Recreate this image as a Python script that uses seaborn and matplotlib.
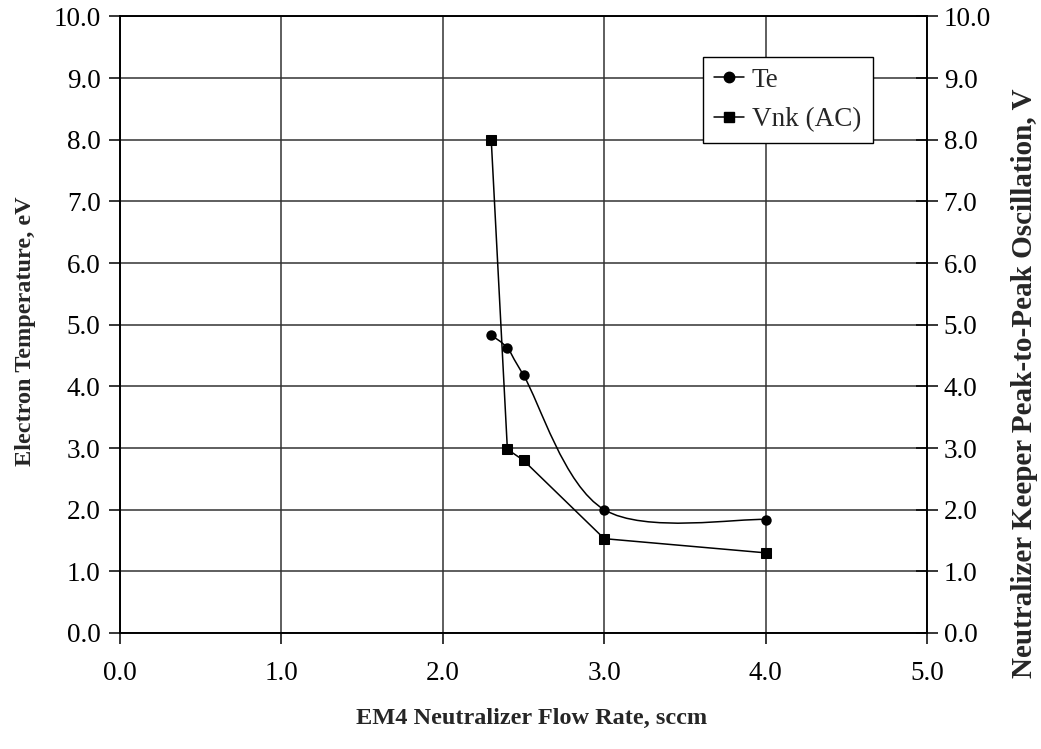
import matplotlib
matplotlib.use("Agg")
import matplotlib.pyplot as plt
from matplotlib.path import Path
from matplotlib.patches import PathPatch
from matplotlib.lines import Line2D
import numpy as np
import pandas as pd
import seaborn as sns

# Neutralizer flow rate (sccm)
flow = [2.3, 2.4, 2.5, 3.0, 4.0]
# Electron temperature (eV)
te = [4.83, 4.62, 4.18, 2.0, 1.84]
# Keeper peak-to-peak oscillation (V)
vnk = [8.0, 2.98, 2.80, 1.53, 1.30]

ticks = [0, 1, 2, 3, 4, 5, 6, 7, 8, 9, 10]

sns.set_theme(style="white")
plt.rcParams["font.family"] = ["Liberation Serif", "DejaVu Serif"]

df = pd.DataFrame({"flow": flow, "te": te, "vnk": vnk})

fig = plt.figure(figsize=(10.41, 7.49), dpi=100)
ax = fig.add_axes([0.1153, 0.1549, 0.7752, 0.8231])
ax2 = ax.twinx()

LW = 1.1
MS = 7.5


def smooth_path(xs, ys):
    """Cubic Bezier curve through the points (Catmull-Rom style tangents)."""
    pts = np.column_stack([xs, ys]).astype(float)
    n = len(pts)
    verts = [pts[0]]
    codes = [Path.MOVETO]
    for i in range(n - 1):
        p0 = pts[i - 1] if i > 0 else pts[i]
        p1 = pts[i]
        p2 = pts[i + 1]
        p3 = pts[i + 2] if i + 2 < n else pts[i + 1]
        c1 = p1 + (p2 - p0) / 6.0
        c2 = p2 - (p3 - p1) / 6.0
        verts += [c1, c2, p2]
        codes += [Path.CURVE4] * 3
    return Path(verts, codes)


# Te: smoothed line with round markers on the primary axis
ax.add_patch(PathPatch(smooth_path(df["flow"], df["te"]), fill=False,
                       edgecolor="black", linewidth=LW, zorder=3))
sns.scatterplot(data=df, x="flow", y="te", ax=ax, marker="o", s=MS ** 2,
                color="black", edgecolor="black", linewidth=0, zorder=4,
                legend=False)

# Vnk: straight segments with square markers on the secondary axis
sns.lineplot(data=df, x="flow", y="vnk", ax=ax2, color="black", linewidth=LW,
             marker="s", markersize=MS, markeredgecolor="black",
             markerfacecolor="black", sort=False, legend=False, zorder=4)

for a in (ax, ax2):
    a.set_xlim(0, 5)
    a.set_ylim(0, 10)
    a.set_yticks(ticks)
    a.set_yticklabels([f"{t:.1f}" for t in ticks])
    for s in a.spines.values():
        s.set_color("black")
        s.set_linewidth(1.2)

ax.set_xticks([0, 1, 2, 3, 4, 5])
ax.set_xticklabels([f"{t:.1f}" for t in [0, 1, 2, 3, 4, 5]])
ax.grid(True, color="#333333", linewidth=1.1)
ax2.grid(False)
ax.set_axisbelow(True)

ax.tick_params(axis="both", which="major", labelsize=19.5, colors="black",
               direction="out", length=8, width=1.1, pad=6, left=True,
               bottom=True)
ax.tick_params(axis="x", pad=12)
ax2.tick_params(axis="y", labelsize=19.5, colors="black", direction="inout",
                length=16, width=1.1, pad=4, right=True)

ax.set_xlabel("EM4 Neutralizer Flow Rate, sccm", fontsize=17.5,
              fontweight="bold")
ax.xaxis.set_label_coords(0.51, -0.121)
ax.set_ylabel("Electron Temperature, eV", fontsize=17.5, fontweight="bold")
ax.yaxis.set_label_coords(-0.104, 0.49)
ax2.set_ylabel("Neutralizer Keeper Peak-to-Peak Oscillation, V", fontsize=21,
               fontweight="bold", rotation=90)
ax2.yaxis.set_label_coords(1.104, 0.405)

handles = [
    Line2D([], [], color="black", linewidth=LW, marker="o", markersize=MS),
    Line2D([], [], color="black", linewidth=LW, marker="s", markersize=MS),
]
leg = ax2.legend(handles, ["Te", "Vnk (AC)"], loc="upper left",
                 bbox_to_anchor=(0.722, 0.935), fontsize=19.5, frameon=True,
                 fancybox=False, edgecolor="black", framealpha=1,
                 handlelength=1.1, handletextpad=0.3, borderpad=0.42,
                 labelspacing=0.52, borderaxespad=0)
leg.get_frame().set_linewidth(1.0)

fig.savefig("out.png", dpi=100, facecolor="white")
